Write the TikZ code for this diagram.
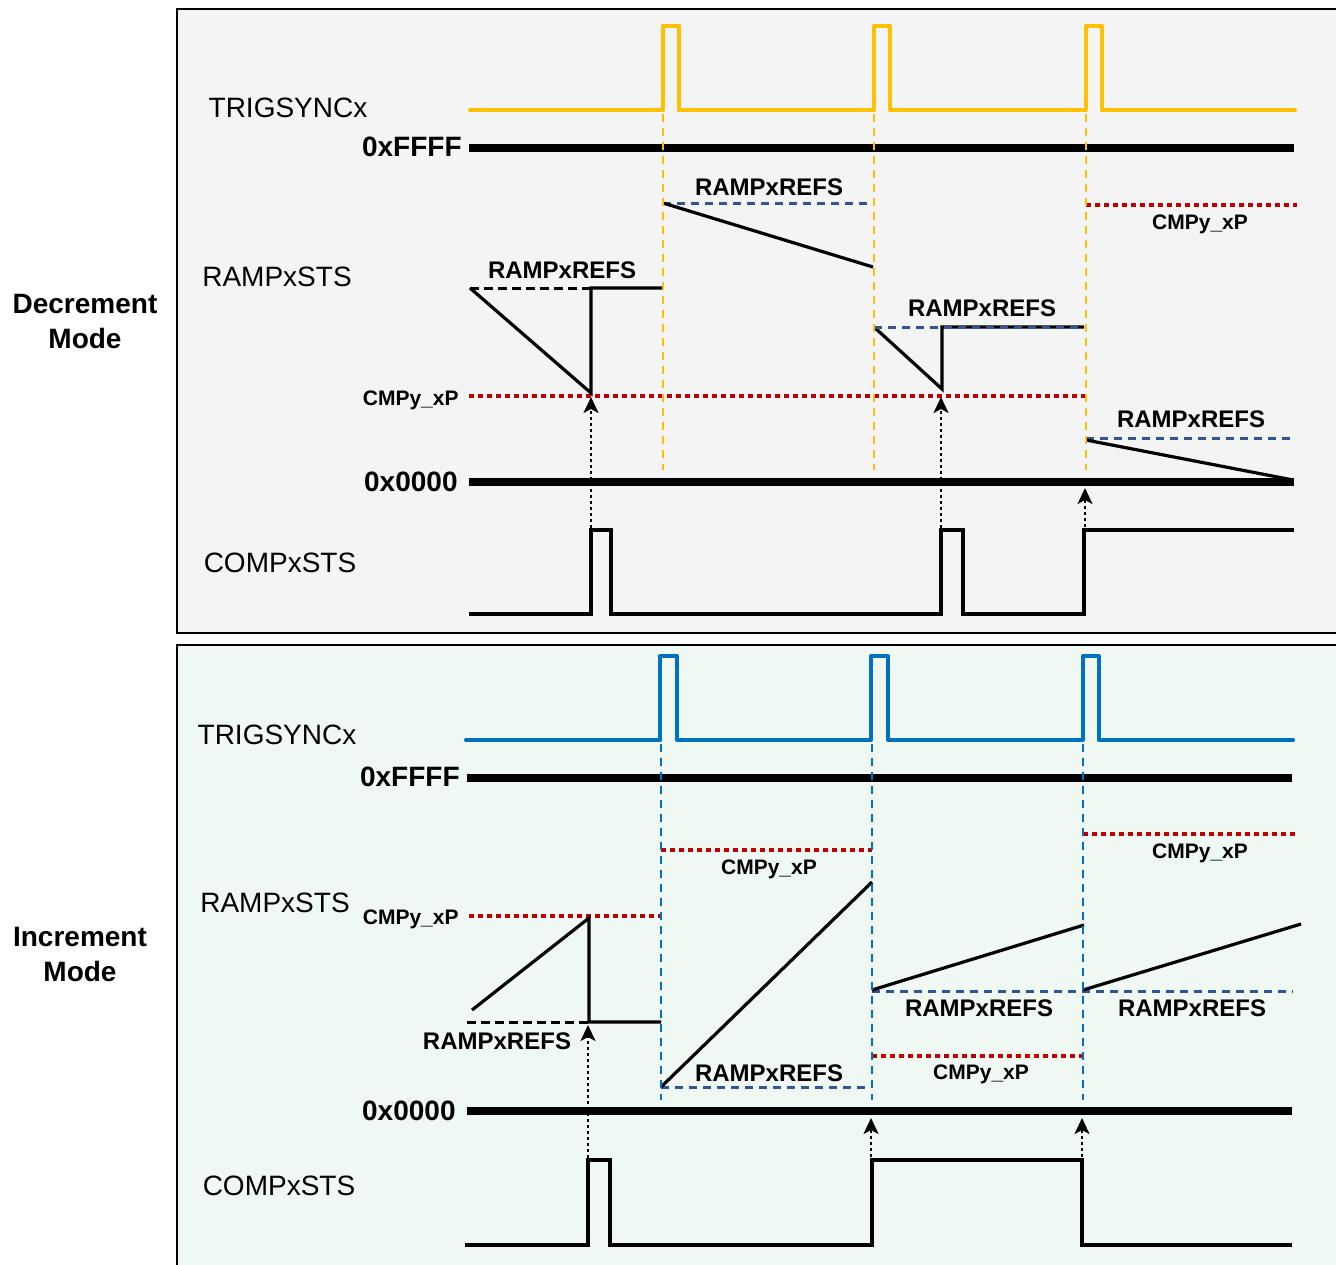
\documentclass[tikz,border=0pt]{standalone}
\usepackage{fontspec}
\setmainfont{Liberation Sans}
\usetikzlibrary{arrows.meta}
\definecolor{trigorange}{HTML}{FFC000}
\definecolor{trigblue}{HTML}{0070C0}
\definecolor{cmpred}{HTML}{C00000}
\definecolor{refblue}{HTML}{2F5597}
\definecolor{topbg}{HTML}{F4F4F4}
\definecolor{botbg}{HTML}{EFF8F3}
\tikzset{
  panel/.style={draw=black, line width=1pt},
  trigwave/.style={line width=2pt, line join=round, line cap=round},
  levelline/.style={line width=4pt},
  rampline/.style={line width=1.6pt, line join=miter},
  compwave/.style={line width=1.6pt, line join=miter},
  vdash/.style={line width=1.3pt, dash pattern=on 4pt off 3pt},
  refdash/.style={draw=refblue, line width=1.5pt, dash pattern=on 4pt off 3pt},
  blkdash/.style={draw=black, line width=1.5pt, dash pattern=on 4.5pt off 2.5pt},
  reddot/.style={draw=cmpred, line width=1.7pt, dash pattern=on 2.5pt off 2pt},
  dotarrow/.style={draw=black, line width=1pt, dash pattern=on 1.5pt off 1.5pt, -{Stealth[length=8pt,width=7.5pt,inset=2pt]}},
  sig/.style={inner sep=0pt, font=\fontsize{14}{17}\selectfont, text height=0.716em, text depth=0pt},
  lvl/.style={inner sep=0pt, font=\fontsize{14}{16}\bfseries\selectfont, text height=0.716em, text depth=0pt},
  reflbl/.style={inner sep=0pt, font=\fontsize{12}{14}\bfseries\selectfont, text height=0.716em, text depth=0pt},
  cmplbl/.style={inner sep=0pt, font=\fontsize{10.5}{12}\bfseries\selectfont, text height=0.716em, text depth=0pt},
  modelbl/.style={inner sep=0pt, align=center, font=\fontsize{14}{17.5}\bfseries\selectfont},
}
\begin{document}
\begin{tikzpicture}[x=0.5pt,y=-0.5pt]
\path[use as bounding box] (0,0) rectangle (1336,1264);
\clip (0,0) rectangle (1336,1264);
\fill[white] (0,0) rectangle (1336,1264);

% ================= DECREMENT MODE =================
\draw[panel, fill=topbg] (177,9) rectangle (1350,633);

\node[modelbl] (decmode) at (85,321) {Decrement\\Mode};
\node[sig] (trigA) at (288,110) {TRIGSYNCx};
\node[lvl, anchor=east] (ffffA) at (462,149) {0xFFFF};
\node[sig] (rampA) at (277,279) {RAMPxSTS};
\node[cmplbl, anchor=east] (cmpA) at (459,398) {CMPy\_xP};
\node[lvl, anchor=east] (zeroA) at (458,484) {0x0000};
\node[sig] (compA) at (280,565) {COMPxSTS};

% levels
\draw[levelline] (469,148) -- (1294,148);
\draw[levelline] (469,482) -- (1294,482);

% trigger
\draw[trigwave, trigorange] (470,110) -- (663,110) -- (663,26) -- (679,26) -- (679,110)
  -- (874,110) -- (874,26) -- (890,26) -- (890,110)
  -- (1086,110) -- (1086,26) -- (1102,26) -- (1102,110) -- (1295,110);

% compare level
\draw[reddot] (469,396) -- (1086,396);

% ramp segment 1
\draw[rampline] (470,288) -- (591,393) -- (591,288) -- (663,288);
\draw[blkdash] (470,288) -- (591,288);
\node[reflbl] (refA1) at (562,271) {RAMPxREFS};

% ramp segment 2
\draw[refdash] (663,203) -- (872,203);
\draw[rampline] (663,203) -- (873,267);
\node[reflbl] (refA2) at (769,188) {RAMPxREFS};

% ramp segment 3
\draw[rampline] (874,327) -- (942,389) -- (942,327) -- (1084,327);
\draw[refdash] (874,327) -- (1084,327);
\node[reflbl] (refA3) at (982,309) {RAMPxREFS};

% ramp segment 4
\draw[reddot] (1086,205) -- (1297,205);
\node[cmplbl] (cmpA4) at (1200,222) {CMPy\_xP};
\draw[refdash] (1086,438) -- (1295,438);
\node[reflbl] (refA4) at (1191,420) {RAMPxREFS};
\draw[rampline] (1086,440) -- (1293,480);

% trigger verticals
\foreach \xx in {663,874,1086} \draw[vdash, trigorange] (\xx,114) -- (\xx,470);

% compare output
\draw[compwave] (469,614) -- (591,614) -- (591,530) -- (611,530) -- (611,614)
  -- (941,614) -- (941,530) -- (963,530) -- (963,614)
  -- (1084,614) -- (1084,530) -- (1294,530);

% event arrows
\coordinate (a1s) at (591,528); \coordinate (a1e) at (591,397);
\coordinate (a2s) at (941,528); \coordinate (a2e) at (941,397);
\coordinate (a3s) at (1085,527); \coordinate (a3e) at (1085,488);
\draw[dotarrow] (a1s) -- (a1e);
\draw[dotarrow] (a2s) -- (a2e);
\draw[dotarrow] (a3s) -- (a3e);

% ================= INCREMENT MODE =================
\draw[panel, fill=botbg] (177,645) rectangle (1350,1280);

\node[modelbl] (incmode) at (80,954) {Increment\\Mode};
\node[sig] (trigB) at (277,737) {TRIGSYNCx};
\node[lvl, anchor=east] (ffffB) at (460,779) {0xFFFF};
\node[sig] (rampB) at (275,905) {RAMPxSTS};
\node[cmplbl, anchor=east] (cmpB) at (459,917) {CMPy\_xP};
\node[lvl, anchor=east] (zeroB) at (456,1113) {0x0000};
\node[sig] (compB) at (279,1188) {COMPxSTS};

% levels
\draw[levelline] (467,778) -- (1292,778);
\draw[levelline] (467,1111) -- (1292,1111);

% trigger
\draw[trigwave, trigblue] (466,740) -- (660,740) -- (660,656) -- (677,656) -- (677,740)
  -- (871,740) -- (871,656) -- (888,656) -- (888,740)
  -- (1083,740) -- (1083,656) -- (1099,656) -- (1099,740) -- (1293,740);

% segment 1
\draw[reddot] (469,916) -- (661,916);
\draw[rampline] (472,1010) -- (589,918) -- (589,1022) -- (661,1022);
\draw[blkdash] (467,1022) -- (589,1022);
\node[reflbl] (refB1) at (497,1042) {RAMPxREFS};

% segment 2
\draw[reddot] (661,850) -- (872,850);
\node[cmplbl] (cmpB2) at (769,867) {CMPy\_xP};
\draw[refdash] (661,1087) -- (870,1087);
\draw[rampline] (661,1087) -- (872,882);
\node[reflbl] (refB2) at (769,1074) {RAMPxREFS};

% segment 3
\draw[refdash] (872,991) -- (1293,991);
\draw[rampline] (872,990) -- (1084,925);
\node[reflbl] (refB3) at (979,1009) {RAMPxREFS};
\draw[reddot] (872,1056) -- (1084,1056);
\node[cmplbl] (cmpB3) at (981,1072) {CMPy\_xP};

% segment 4
\draw[reddot] (1083,834) -- (1295,834);
\node[cmplbl] (cmpB4) at (1200,851) {CMPy\_xP};
\draw[rampline] (1083,990) -- (1301,924);
\node[reflbl] (refB4) at (1192,1009) {RAMPxREFS};

% trigger verticals
\foreach \xx in {661,872,1083} \draw[vdash, trigblue] (\xx,744) -- (\xx,1100);

% compare output
\draw[compwave] (465,1245) -- (588,1245) -- (588,1160) -- (610,1160) -- (610,1245)
  -- (872,1245) -- (872,1160) -- (1082,1160) -- (1082,1245) -- (1292,1245);

% event arrows
\coordinate (b1s) at (588,1158); \coordinate (b1e) at (588,1025);
\coordinate (b2s) at (871,1157); \coordinate (b2e) at (871,1118);
\coordinate (b3s) at (1082,1157); \coordinate (b3e) at (1082,1118);
\draw[dotarrow] (b1s) -- (b1e);
\draw[dotarrow] (b2s) -- (b2e);
\draw[dotarrow] (b3s) -- (b3e);
\end{tikzpicture}
\end{document}
